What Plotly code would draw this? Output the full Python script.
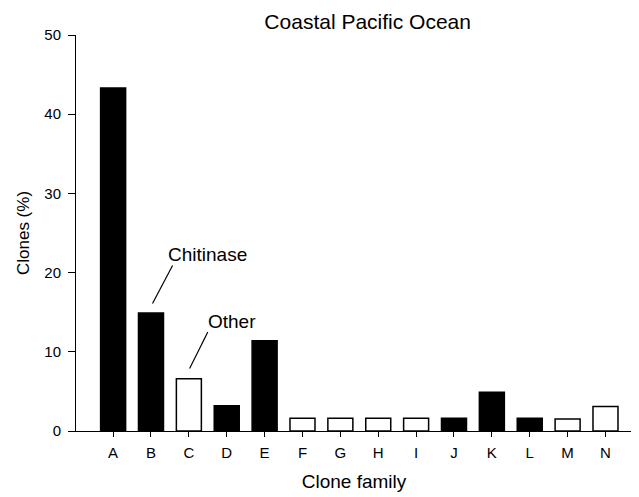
import plotly.graph_objects as go

families = ["A", "B", "C", "D", "E", "F", "G", "H", "I", "J", "K", "L", "M", "N"]
clones_pct = [43.3, 14.9, 6.6, 3.2, 11.4, 1.6, 1.6, 1.6, 1.6, 1.6, 4.9, 1.6, 1.5, 3.1]
group = ["Chitinase", "Chitinase", "Other", "Chitinase", "Chitinase", "Other", "Other",
         "Other", "Other", "Chitinase", "Chitinase", "Chitinase", "Other", "Other"]

fill = ["black" if g == "Chitinase" else "white" for g in group]

fig = go.Figure()
fig.add_trace(go.Bar(
    x=families, y=clones_pct, width=0.66,
    marker=dict(color=fill, line=dict(color="black", width=1.5)),
    showlegend=False,
))

font = "Liberation Sans, Arial, sans-serif"
# page body has an 8px default margin, so the figure is sized to fit the 639x497 window
fig.update_layout(
    width=631, height=489,
    margin=dict(l=68, r=7, t=27, b=66, autoexpand=False),
    plot_bgcolor="white", paper_bgcolor="white",
    font=dict(family=font, size=15, color="black"),
    xaxis=dict(type="category", range=[-0.98, 13.7], showline=True, linecolor="black",
               linewidth=1, ticks="outside", ticklen=5, tickcolor="black", automargin=False,
               tickfont=dict(size=15), ticklabelstandoff=3,
               title=dict(text="Clone family", font=dict(size=19), standoff=14),
               showgrid=False, zeroline=False),
    yaxis=dict(range=[0, 50], tickvals=[0, 10, 20, 30, 40, 50], showline=True,
               linecolor="black", linewidth=1, ticks="outside", ticklen=7, automargin=False,
               tickcolor="black", tickfont=dict(size=15), ticklabelstandoff=4,
               title=dict(text="Clones (%)", font=dict(size=17), standoff=10),
               showgrid=False, zeroline=False),
    title=dict(text="Coastal Pacific Ocean", x=0.57, xanchor="center", y=0.973,
               yanchor="middle", font=dict(size=21)),
)

fig.add_annotation(x=2.50, y=22.3, xref="x", yref="y", text="Chitinase",
                   showarrow=False, font=dict(size=19))
fig.add_annotation(x=3.15, y=13.85, xref="x", yref="y", text="Other",
                   showarrow=False, font=dict(size=19))
fig.add_shape(type="line", xref="x", yref="y", x0=1.57, y0=20.9, x1=1.04, y1=16.1,
              line=dict(color="black", width=1.2))
fig.add_shape(type="line", xref="x", yref="y", x0=2.50, y0=12.5, x1=2.02, y1=7.9,
              line=dict(color="black", width=1.2))

fig.write_html("out.html")
